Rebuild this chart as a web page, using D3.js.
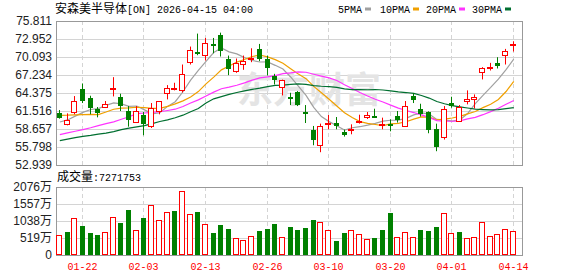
<!DOCTYPE html>
<html>
<head>
<meta charset="utf-8">
<script src="https://d3js.org/d3.v7.min.js"></script>
<style>
  html, body { margin: 0; padding: 0; background: #fff; }
  svg { display: block; }
</style>
</head>
<body>
<svg id="drawsvg" width="578" height="276"></svg>
<script>
var dates = ['01-16','01-20','01-21','01-22','01-23','01-26','01-27','01-28','01-29','01-30',
  '02-02','02-03','02-04','02-05','02-06','02-09','02-10','02-11','02-12','02-13',
  '02-17','02-18','02-19','02-20','02-23','02-24','02-25','02-26','02-27','03-02',
  '03-03','03-04','03-05','03-06','03-09','03-10','03-11','03-12','03-13','03-16',
  '03-17','03-18','03-19','03-20','03-23','03-24','03-25','03-26','03-27','03-30',
  '03-31','04-01','04-02','04-06','04-07','04-08','04-09','04-10','04-13','04-14'];
var tickDates = ['01-22','02-03','02-13','02-26','03-10','03-20','04-01','04-14'];

var openP = [61.25,59.40,61.30,65.05,63.62,61.83,62.09,65.00,63.73,61.51,
  59.82,60.88,59.09,61.46,64.36,65.05,64.79,69.37,70.96,70.38,
  72.22,73.65,69.85,67.84,69.06,69.80,71.38,69.85,67.05,65.36,
  63.78,64.57,61.41,58.56,56.13,59.56,59.67,58.19,58.56,59.87,
  60.51,60.77,59.25,59.50,60.77,59.14,63.94,61.88,61.35,58.72,
  57.40,62.78,59.93,63.10,63.46,67.69,68.43,69.16,70.48,72.01];
var closeP = [60.35,60.14,63.15,63.05,62.04,61.14,62.62,65.10,62.30,60.09,
  61.46,59.51,61.99,63.10,65.21,65.15,67.42,71.22,70.85,72.33,
  72.17,71.01,68.21,69.16,69.43,69.90,69.80,68.27,66.45,66.50,
  63.57,62.46,61.04,56.87,59.19,59.61,59.14,57.71,58.66,59.98,
  60.88,60.56,59.45,59.40,60.04,62.30,63.25,61.09,58.45,55.81,
  61.88,62.25,62.15,63.46,63.78,68.37,68.53,68.74,71.06,72.12];
var highP = [61.67,61.14,63.89,65.89,63.94,62.15,63.10,66.89,64.26,62.30,
  62.30,61.35,62.78,63.10,65.63,66.00,68.90,71.75,73.81,73.12,
  73.12,73.96,70.32,69.85,70.32,71.48,72.17,70.32,67.42,66.50,
  64.41,64.68,62.46,59.14,59.51,60.88,60.56,58.56,59.40,60.93,
  61.35,61.88,60.46,60.19,61.51,63.10,64.36,62.67,61.46,59.51,
  62.30,63.78,62.46,64.79,64.15,68.48,69.16,70.06,71.38,72.59];
var lowP = [60.30,59.24,60.99,62.78,60.99,60.51,61.99,63.83,61.51,59.03,
  59.72,57.66,58.82,60.99,63.36,64.79,64.47,68.90,70.38,69.53,
  70.69,70.17,67.21,67.58,68.06,69.27,69.43,67.16,65.73,63.99,
  62.46,62.30,59.61,56.08,54.97,58.61,58.61,57.45,57.82,59.51,
  60.25,60.56,58.61,58.29,59.67,59.09,62.78,60.62,57.98,55.13,
  56.98,62.04,59.82,62.57,61.94,66.53,67.95,68.27,68.90,70.96];
var prevClose = 59.90;

var volume = [6110000,7020000,11300000,8850000,6720000,6110000,6920000,11500000,9770000,13740000,
  7530000,11300000,15160000,10580000,13030000,13430000,19440000,12420000,13130000,9330000,
  6690000,9120000,7900000,5070000,4460000,5680000,7300000,7900000,9420000,5370000,
  8510000,7600000,8210000,10640000,9930000,7500000,4160000,6690000,7500000,6380000,
  4860000,5170000,7600000,12770000,5470000,6890000,5470000,7600000,7300000,8510000,
  12970000,6690000,6990000,5170000,5470000,9930000,5780000,6380000,7900000,7271753];

var ma5 = [59.77,60.10,60.70,61.30,61.75,61.90,62.40,62.79,62.64,62.25,
  62.31,61.69,61.07,61.23,62.25,62.99,64.57,66.42,67.97,69.39,
  70.80,71.52,70.91,70.58,70.00,69.54,69.30,69.31,68.77,68.18,
  66.92,65.45,64.00,62.09,60.63,59.83,59.17,58.50,58.86,59.02,
  59.27,59.56,59.91,60.05,60.07,60.35,60.89,61.22,61.03,60.18,
  60.10,59.90,60.11,61.11,62.70,64.00,65.26,66.58,68.10,69.76];
var ma10 = [60.83,60.85,60.90,60.93,60.98,60.95,61.35,61.80,61.97,62.00,
  62.11,62.05,61.93,61.94,62.25,62.65,63.13,63.75,64.60,65.82,
  66.90,68.05,68.67,69.28,69.70,70.17,70.41,70.11,69.68,69.09,
  68.23,67.38,66.66,65.43,64.41,63.38,62.31,61.25,60.48,59.83,
  59.55,59.37,59.21,59.46,59.55,59.81,60.23,60.57,60.54,60.13,
  60.23,60.40,60.67,61.07,61.44,62.05,62.58,63.35,64.61,66.23];
var ma20 = [57.77,58.05,58.30,58.56,58.85,59.20,59.50,59.80,60.20,60.60,
  61.10,61.20,61.30,61.40,61.60,61.80,62.24,62.78,63.29,63.91,
  64.51,65.05,65.30,65.61,65.98,66.41,66.77,66.93,67.14,67.46,
  67.57,67.72,67.67,67.36,67.06,66.78,66.36,65.68,65.08,64.46,
  63.89,63.38,62.94,62.45,61.98,61.60,61.27,60.91,60.51,59.98,
  59.89,59.89,59.94,60.27,60.50,60.93,61.41,61.96,62.58,63.18];
var ma30 = [56.82,57.05,57.30,57.50,57.65,57.85,58.00,58.25,58.55,58.80,
  59.00,59.20,59.50,59.85,60.10,60.45,60.85,61.40,61.90,62.80,
  63.45,63.80,64.15,64.45,64.70,64.95,65.15,65.40,65.60,65.64,
  65.75,65.83,65.75,65.55,65.45,65.40,65.28,65.04,64.92,64.91,
  64.89,64.93,64.85,64.72,64.55,64.45,64.32,63.98,63.57,63.02,
  62.67,62.38,62.18,61.99,61.80,61.75,61.71,61.72,61.88,62.06];

var priceTicks = [52.939,55.798,58.657,61.516,64.375,67.234,70.093,72.952,75.811];
var volTicks = [0,519,1038,1557,2076];   // 万
var maNames = ['5PMA','10PMA','20PMA','30PMA'];
var maColors = ['#a0a0a0','#f0a000','#ff33ff','#006f30'];

var RED = '#ff0000', GREEN = '#008000', GRID = '#d4d4d4', FRAME = '#999';
var numFont = "'Liberation Sans', Arial, 'Noto Sans CJK SC', sans-serif";
var monoFont = "'Liberation Mono', 'DejaVu Sans Mono', monospace";
var cjkFont = "'Noto Sans CJK SC', sans-serif";

var left = 56, right = 522;
var pTop = 21, pBot = 165, vTop = 187, vBot = 255;

var svg = d3.select('#drawsvg');
svg.append('rect').attr('width', 578).attr('height', 276).style('fill', '#fff');

var x = d3.scaleBand().domain(d3.range(dates.length)).range([left, 517.6]);
var bw = x.bandwidth();
function cx(i){ return Math.round(x(i) + bw / 2); }

var y = d3.scaleLinear().domain([priceTicks[0], priceTicks[priceTicks.length - 1]]).range([pBot, pTop]);
var yv = d3.scaleLinear().domain([0, 2076 * 10000]).range([vBot, vTop]);
function crisp(v){ return Math.round(v) + 0.5; }

// grids
var grid = svg.append('g');
priceTicks.forEach(function(t){
  grid.append('line').attr('x1', left).attr('x2', right)
    .attr('y1', crisp(y(t))).attr('y2', crisp(y(t)))
    .style('stroke', GRID);
});
volTicks.forEach(function(t){
  grid.append('line').attr('x1', left).attr('x2', right)
    .attr('y1', crisp(yv(t * 10000))).attr('y2', crisp(yv(t * 10000)))
    .style('stroke', GRID);
});
tickDates.forEach(function(d){
  var i = dates.indexOf(d);
  [[pTop, pBot], [vTop, vBot]].forEach(function(r){
    grid.append('line').attr('x1', cx(i) - 0.5).attr('x2', cx(i) - 0.5)
      .attr('y1', r[0]).attr('y2', r[1])
      .style('stroke', GRID).style('stroke-dasharray', '4 3');
  });
});

// watermark
svg.append('text').text('东方财富')
  .attr('x', 237).attr('y', 103)
  .style('font', 'bold 36px ' + cjkFont)
  .style('fill', '#e4e4e4');

// frames
svg.append('rect').attr('x', left + 0.5).attr('y', pTop + 0.5)
  .attr('width', right - left).attr('height', pBot - pTop)
  .style('fill', 'none').style('stroke', FRAME);
svg.append('rect').attr('x', left + 0.5).attr('y', vTop + 0.5)
  .attr('width', right - left).attr('height', vBot - vTop)
  .style('fill', 'none').style('stroke', FRAME);

// moving averages
var mas = [ma5, ma10, ma20, ma30];
var line = d3.line().x(function(d, i){ return x(i) + bw / 2; }).y(function(d){ return y(d); });
mas.forEach(function(m, k){
  svg.append('path').attr('d', line(m))
    .style('fill', 'none').style('stroke', maColors[k]).style('stroke-width', 1.2);
});

// candles
var candles = svg.append('g');
for(var i = 0; i < dates.length; i ++){
  var c = cx(i);
  var o = openP[i], cl = closeP[i];
  var bodyTop = y(Math.max(o, cl)), bodyBot = y(Math.min(o, cl));
  if(cl >= o){
    var bt = Math.round(bodyTop) + 0.5, bb = Math.max(Math.round(bodyBot) + 0.5, bt + 1);
    candles.append('line').attr('x1', c - 0.5).attr('x2', c - 0.5)
      .attr('y1', y(highP[i])).attr('y2', bt).style('stroke', RED);
    candles.append('line').attr('x1', c - 0.5).attr('x2', c - 0.5)
      .attr('y1', bb).attr('y2', y(lowP[i])).style('stroke', RED);
    candles.append('rect').attr('x', c - 3.5).attr('y', bt)
      .attr('width', 5).attr('height', bb - bt)
      .style('fill', '#fff').style('stroke', RED);
  }else{
    candles.append('line').attr('x1', c - 0.5).attr('x2', c - 0.5)
      .attr('y1', y(highP[i])).attr('y2', y(lowP[i])).style('stroke', GREEN);
    candles.append('rect').attr('x', c - 3).attr('y', Math.round(bodyTop))
      .attr('width', 5).attr('height', Math.max(Math.round(bodyBot) - Math.round(bodyTop), 2))
      .style('fill', GREEN);
  }
}

// volume bars, coloured by change from previous close
var vols = svg.append('g');
for(var i = 0; i < volume.length; i ++){
  var c = cx(i);
  var pc = i == 0 ? prevClose : closeP[i - 1];
  var vt = Math.round(yv(volume[i]));
  if(closeP[i] >= pc){
    vols.append('rect').attr('x', c - 3.5).attr('y', vt + 0.5)
      .attr('width', 5).attr('height', vBot - vt - 1)
      .style('fill', '#fff').style('stroke', RED);
  }else{
    vols.append('rect').attr('x', c - 3).attr('y', vt)
      .attr('width', 5).attr('height', vBot - vt)
      .style('fill', GREEN);
  }
}

// axis labels
priceTicks.forEach(function(t){
  svg.append('text').text(d3.format('.3f')(t))
    .attr('x', 52).attr('y', y(t)).attr('dy', '0.35em')
    .attr('text-anchor', 'end')
    .style('font', '12px ' + numFont).style('fill', '#222');
});
volTicks.forEach(function(t){
  svg.append('text').text(t == 0 ? '0' : t + '万')
    .attr('x', 52).attr('y', yv(t * 10000)).attr('dy', '0.35em')
    .attr('text-anchor', 'end')
    .style('font', '12px ' + numFont).style('fill', '#222');
});
tickDates.forEach(function(d){
  svg.append('text').text(d)
    .attr('x', cx(dates.indexOf(d)) - 0.5).attr('y', 270)
    .attr('text-anchor', 'middle')
    .style('font', '10px ' + monoFont).style('fill', RED);
});

// title
var title = svg.append('text').attr('x', 55).attr('y', 13).style('fill', '#000');
title.append('tspan').text('安森美半导体').style('font', '12px ' + cjkFont);
title.append('tspan').text('[ON] 2026-04-15 04:00').style('font', '10px ' + monoFont);

// legend
var legX = [338, 380, 426, 472];
maNames.forEach(function(n, k){
  svg.append('text').text(n).attr('x', legX[k]).attr('y', 13)
    .style('font', '10px ' + monoFont).style('fill', '#000');
  svg.append('rect').attr('x', legX[k] + n.length * 6 + 3).attr('y', 7.5)
    .attr('width', 6).attr('height', 3).style('fill', maColors[k]);
});

// volume caption
var vc = svg.append('text').attr('x', 57).attr('y', 181).style('fill', '#000');
vc.append('tspan').text('成交量').style('font', '12px ' + cjkFont);
vc.append('tspan').text(':' + volume[volume.length - 1]).style('font', '10px ' + monoFont);
</script>
</body>
</html>
